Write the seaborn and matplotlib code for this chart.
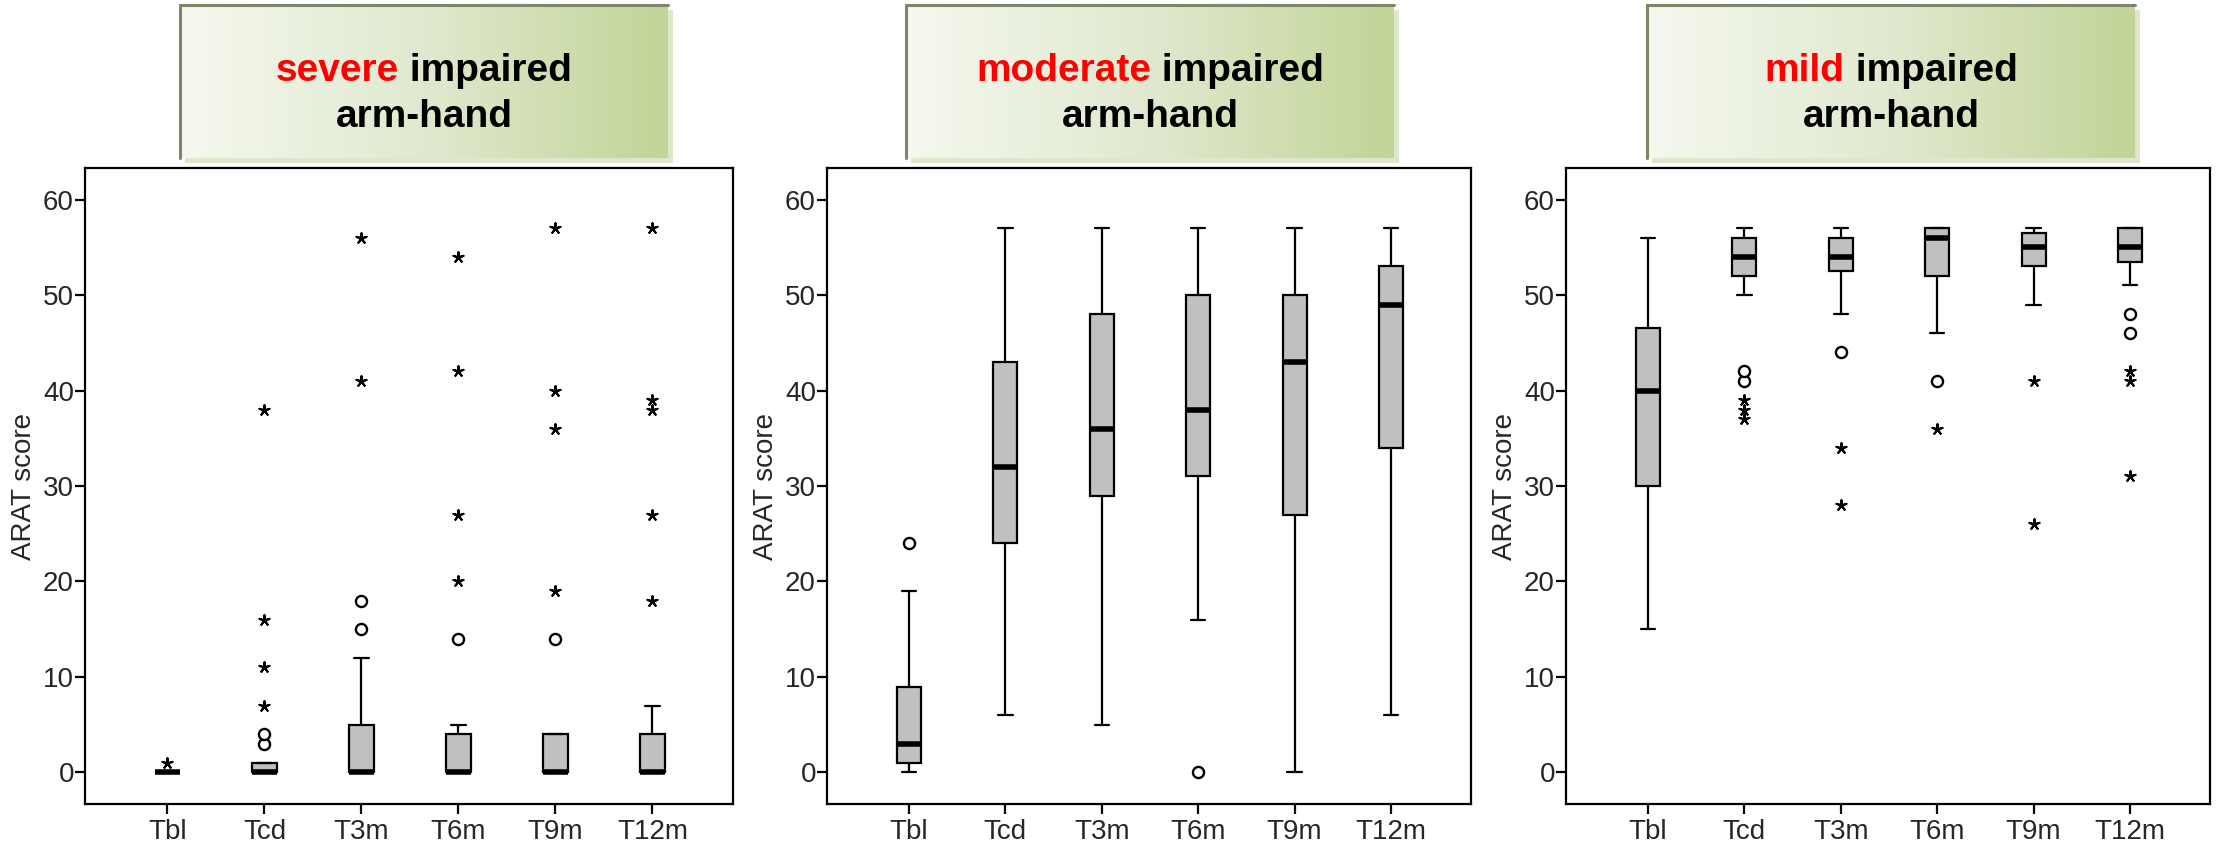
import numpy as np
import pandas as pd
import matplotlib
matplotlib.use("Agg")
import matplotlib.pyplot as plt
import seaborn as sns
from matplotlib.patches import Rectangle
from matplotlib.lines import Line2D
from matplotlib.colors import LinearSegmentedColormap

# ---------------- data ----------------
times = ["Tbl", "Tcd", "T3m", "T6m", "T9m", "T12m"]
y_ticks = [0, 10, 20, 30, 40, 50, 60]

# severe impaired arm-hand
severe_low = [0, 0, 0, 0, 0, 0]
severe_q1 = [0, 0, 0, 0, 0, 0]
severe_med = [0, 0, 0, 0, 0, 0]
severe_q3 = [0, 1, 5, 4, 4, 4]
severe_high = [0, 1, 12, 5, 4, 7]
severe_circle_time = ["Tcd", "Tcd", "T3m", "T3m", "T6m", "T9m"]
severe_circle_val = [3, 4, 15, 18, 14, 14]
severe_star_time = ["Tbl", "Tcd", "Tcd", "Tcd", "Tcd", "T3m", "T3m",
                    "T6m", "T6m", "T6m", "T6m", "T9m", "T9m", "T9m", "T9m",
                    "T12m", "T12m", "T12m", "T12m", "T12m"]
severe_star_val = [1, 7, 11, 16, 38, 41, 56,
                   20, 27, 42, 54, 19, 36, 40, 57,
                   18, 27, 38, 39, 57]

# moderate impaired arm-hand
moderate_low = [0, 6, 5, 16, 0, 6]
moderate_q1 = [1, 24, 29, 31, 27, 34]
moderate_med = [3, 32, 36, 38, 43, 49]
moderate_q3 = [9, 43, 48, 50, 50, 53]
moderate_high = [19, 57, 57, 57, 57, 57]
moderate_circle_time = ["Tbl", "T6m"]
moderate_circle_val = [24, 0]
moderate_star_time = []
moderate_star_val = []

# mild impaired arm-hand
mild_low = [15, 50, 48, 46, 49, 51]
mild_q1 = [30, 52, 52.5, 52, 53, 53.5]
mild_med = [40, 54, 54, 56, 55, 55]
mild_q3 = [46.5, 56, 56, 57, 56.5, 57]
mild_high = [56, 57, 57, 57, 57, 57]
mild_circle_time = ["Tcd", "Tcd", "T3m", "T6m", "T12m", "T12m"]
mild_circle_val = [41, 42, 44, 41, 46, 48]
mild_star_time = ["Tcd", "Tcd", "Tcd", "T3m", "T3m", "T6m", "T9m", "T9m",
                  "T12m", "T12m", "T12m"]
mild_star_val = [37, 38, 39, 28, 34, 36, 26, 41, 31, 41, 42]

titles = [("severe", " impaired"), ("moderate", " impaired"), ("mild", " impaired")]
title_line2 = "arm-hand"

panels = [
    (severe_low, severe_q1, severe_med, severe_q3, severe_high,
     severe_circle_time, severe_circle_val, severe_star_time, severe_star_val),
    (moderate_low, moderate_q1, moderate_med, moderate_q3, moderate_high,
     moderate_circle_time, moderate_circle_val, moderate_star_time, moderate_star_val),
    (mild_low, mild_q1, mild_med, mild_q3, mild_high,
     mild_circle_time, mild_circle_val, mild_star_time, mild_star_val),
]

# ---------------- style ----------------
sns.set_style("ticks")
plt.rcParams["font.family"] = ["Liberation Sans", "DejaVu Sans"]

W, H = 2221, 850
fig = plt.figure(figsize=(W / 100, H / 100), dpi=100)

axes_px = [(85, 733), (827, 1471), (1566, 2210)]
ax_top, ax_bot = 168, 804
boxes_px = [(180, 668), (906, 1394), (1647, 2135)]
box_top, box_bot = 5, 158

cmap = LinearSegmentedColormap.from_list("g", ["#f5f8ef", "#e0e9cf", "#c2d497"])
label_size = 20

for k, (panel, (x0, x1)) in enumerate(zip(panels, axes_px)):
    low, q1, med, q3, high, ct, cv, st, sv = panel
    ax = fig.add_axes([x0 / W, 1 - ax_bot / H, (x1 - x0) / W, (ax_bot - ax_top) / H])

    rows = []
    for i, t in enumerate(times):
        for v in (low[i], q1[i], med[i], q3[i], high[i]):
            rows.append((t, v))
    box_df = pd.DataFrame(rows, columns=["time", "score"])

    sns.boxplot(data=box_df, x="time", y="score", order=times, whis=(0, 100),
                width=0.25, color="#c0c0c0", saturation=1, linecolor="black",
                linewidth=1.6, showfliers=False,
                medianprops=dict(linewidth=4, color="black"),
                capwidths=0.15, ax=ax)

    if len(cv):
        cdf = pd.DataFrame({"time": ct, "score": cv})
        sns.stripplot(data=cdf, x="time", y="score", order=times, jitter=False,
                      marker="o", color="white", edgecolor="black", linewidth=1.7,
                      size=8, ax=ax, zorder=4)
    if len(sv):
        sdf = pd.DataFrame({"time": st, "score": sv})
        sns.stripplot(data=sdf, x="time", y="score", order=times, jitter=False,
                      marker=(5, 2, 0), color="black", linewidth=1.5,
                      size=7.5, ax=ax, zorder=4)

    ax.set_xlim(-0.85, 5.83)
    ax.set_ylim(-3.3, 63.3)
    ax.set_yticks(y_ticks)
    ax.set_xticks(range(len(times)))
    ax.set_xticklabels(times)
    ax.set_xlabel("")
    ax.set_ylabel("ARAT score", fontsize=label_size, labelpad=4)
    for sp in ax.spines.values():
        sp.set_visible(True)
        sp.set_linewidth(1.6)
        sp.set_color("black")
    ax.tick_params(axis="both", length=7, width=1.6, labelsize=label_size,
                   color="black", direction="out")
    ax.tick_params(axis="x", pad=4)
    ax.tick_params(axis="y", pad=1)

    # ---- title box ----
    bx0, bx1 = boxes_px[k]
    # soft shadow below / right
    fig.patches.append(Rectangle(((bx0 + 5) / W, 1 - (box_bot + 5) / H),
                                 (bx1 - bx0) / W, (box_bot - box_top) / H,
                                 transform=fig.transFigure, facecolor="#dde7cb",
                                 edgecolor="none", zorder=-1))
    bax = fig.add_axes([bx0 / W, 1 - box_bot / H, (bx1 - bx0) / W, (box_bot - box_top) / H])
    bax.set_zorder(1)
    grad = np.linspace(0, 1, 256).reshape(1, -1)
    bax.imshow(grad, aspect="auto", cmap=cmap, extent=[0, 1, 0, 1])
    bax.set_xlim(0, 1)
    bax.set_ylim(0, 1)
    bax.set_axis_off()
    fig.lines.append(Line2D([bx0 / W, bx1 / W], [1 - box_top / H, 1 - box_top / H],
                            transform=fig.transFigure, color="#7d8768",
                            linewidth=2.2, zorder=5))
    fig.lines.append(Line2D([bx0 / W, bx0 / W], [1 - box_top / H, 1 - box_bot / H],
                            transform=fig.transFigure, color="#7d8768",
                            linewidth=2.2, zorder=5))

# ---- title texts ----
fig.canvas.draw()
renderer = fig.canvas.get_renderer()
title_size = 28
for k, (red_part, black_part) in enumerate(titles):
    bx0, bx1 = boxes_px[k]
    cx = (bx0 + bx1) / 2
    t_red = fig.text(0, 0, red_part, color="#ff0000", fontsize=title_size,
                     fontweight="bold", ha="left", va="baseline", zorder=6)
    t_blk = fig.text(0, 0, black_part, color="black", fontsize=title_size,
                     fontweight="bold", ha="left", va="baseline", zorder=6)
    w_red = t_red.get_window_extent(renderer).width
    w_blk = t_blk.get_window_extent(renderer).width
    start = cx - (w_red + w_blk) / 2
    y1 = 1 - 81 / H
    t_red.set_position((start / W, y1))
    t_blk.set_position(((start + w_red) / W, y1))
    fig.text(cx / W, 1 - 127 / H, title_line2, color="black", fontsize=title_size,
             fontweight="bold", ha="center", va="baseline", zorder=6)

fig.savefig("out.png", dpi=100)
